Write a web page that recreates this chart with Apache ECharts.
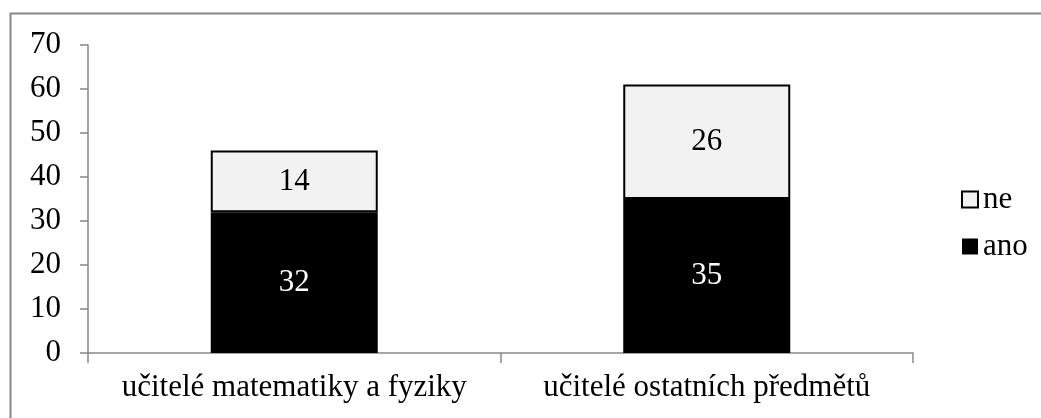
<!DOCTYPE html>
<html>
<head>
<meta charset="utf-8">
<script src="https://cdn.jsdelivr.net/npm/echarts@6/dist/echarts.min.js"></script>
<style>
  html, body { margin: 0; padding: 0; background: #fff; }
  #chart { width: 1041px; height: 418px; }
</style>
</head>
<body>
<div id="chart"></div>
<script>
// data
var categories = ['učitelé matematiky a fyziky', 'učitelé ostatních předmětů'];
var ano = [32, 35];
var ne = [14, 26];
var yTicks = [0, 10, 20, 30, 40, 50, 60, 70];

var font = '"Liberation Serif", "Times New Roman", serif';
var fs = 31;
var myChart = echarts.init(document.getElementById('chart'));

var option = {
    animation: false,
    textStyle: { fontFamily: font },
    graphic: [{
        type: 'rect',
        shape: { x: 10.5, y: 13.5, width: 1100, height: 500 },
        style: { fill: 'none', stroke: '#888', lineWidth: 2 },
        silent: true
    }],
    grid: { left: 88, right: 128, top: 45, bottom: 65 },
    legend: {
        orient: 'vertical',
        left: 956,
        top: 179,
        itemWidth: 16,
        itemHeight: 16,
        itemGap: 16,
        icon: 'rect',
        data: ['ne', 'ano'],
        textStyle: { fontFamily: font, fontSize: fs, color: '#000' }
    },
    xAxis: {
        type: 'category',
        data: categories,
        axisLine: { lineStyle: { color: '#888', width: 1.5 } },
        axisTick: { show: true, length: 10, lineStyle: { color: '#888', width: 1.5 } },
        axisLabel: { interval: 0, fontFamily: font, fontSize: fs, color: '#000', margin: 19 }
    },
    yAxis: {
        type: 'value',
        min: yTicks[0],
        max: yTicks[yTicks.length - 1],
        interval: 10,
        splitLine: { show: false },
        axisLine: { show: true, lineStyle: { color: '#888', width: 1.5 } },
        axisTick: { show: true, length: 8, lineStyle: { color: '#888', width: 1.5 } },
        axisLabel: { fontFamily: font, fontSize: fs, color: '#000', margin: 27 }
    },
    series: [{
        name: 'ano',
        type: 'bar',
        stack: 'a',
        barWidth: 167,
        data: ano,
        itemStyle: { color: '#000' },
        label: { show: true, position: 'inside', color: '#fff', fontFamily: font, fontSize: fs }
    }, {
        name: 'ne',
        type: 'bar',
        stack: 'a',
        barWidth: 167,
        data: ne,
        itemStyle: { color: '#f2f2f2', borderColor: '#000', borderWidth: 2 },
        label: { show: true, position: 'inside', color: '#000', fontFamily: font, fontSize: fs }
    }]
};

myChart.setOption(option);
</script>
</body>
</html>
